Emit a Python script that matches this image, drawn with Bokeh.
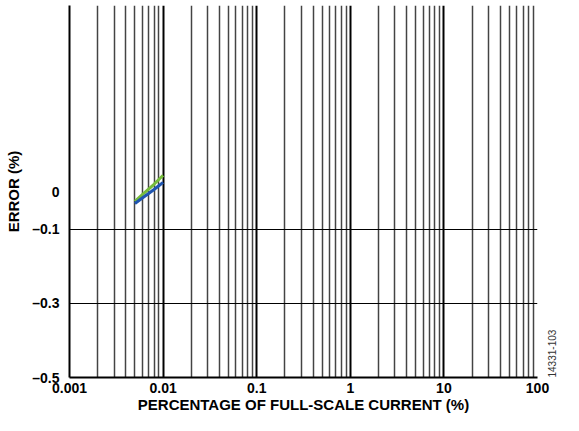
import math
from bokeh.plotting import figure
from bokeh.models import FixedTicker, CustomJSTickFormatter, Range1d, LinearAxis
from bokeh.embed import file_html
from bokeh.resources import INLINE

# data
x_pct = [0.005, 0.006, 0.007, 0.008, 0.009, 0.01]
err_blue = [-0.030, -0.015, -0.003, 0.008, 0.018, 0.027]
err_green = [-0.024, -0.006, 0.009, 0.022, 0.035, 0.046]

x_major = [0.001, 0.01, 0.1, 1, 10, 100]
x_minor = [d * m for d in [0.001, 0.01, 0.1, 1, 10] for m in range(2, 10)]
y_ticks = [-0.5, -0.3, -0.1, 0]
y_grid = [-0.3, -0.1]

FONT = "Liberation Sans"

p = figure(width=563, height=415, x_axis_type="log",
           x_range=Range1d(0.001, 100), y_range=Range1d(-0.5, 0.505),
           output_backend="svg", toolbar_location=None,
           min_border_left=69, min_border_right=26, min_border_top=5, min_border_bottom=38)
p.outline_line_color = None
p.background_fill_color = "white"

p.line(x_pct, err_green, line_color="#76bc3c", line_width=3)
p.line(x_pct, err_blue, line_color="#1f55b0", line_width=3)

p.xaxis.ticker = FixedTicker(ticks=x_major, minor_ticks=x_minor)
p.xaxis.formatter = CustomJSTickFormatter(code="return tick.toString();")
p.yaxis.ticker = FixedTicker(ticks=y_ticks)
p.yaxis.formatter = CustomJSTickFormatter(code="return tick.toString().replace('-', '\\u2013');")

for ax in (p.xaxis, p.yaxis):
    ax.major_tick_out = 0
    ax.major_tick_in = 0
    ax.minor_tick_out = 0
    ax.minor_tick_in = 0
    ax.axis_line_color = "black"
    ax.axis_line_width = 2
    ax.major_label_text_font = FONT
    ax.major_label_text_font_style = "bold"
    ax.major_label_text_font_size = "14px"
    ax.major_label_text_color = "black"
    ax.axis_label_text_font = FONT
    ax.axis_label_text_font_style = "bold"
    ax.axis_label_text_font_size = "15px"
    ax.axis_label_text_color = "black"

p.xaxis.axis_label = "PERCENTAGE OF FULL-SCALE CURRENT (%)"
p.yaxis.axis_label = "ERROR (%)"
p.xaxis.major_label_standoff = 5
p.xaxis.axis_label_standoff = 0
p.yaxis.major_label_standoff = 10
p.yaxis.axis_label_standoff = 7

p.xgrid.ticker = FixedTicker(ticks=x_major, minor_ticks=x_minor)
p.xgrid.grid_line_color = "black"
p.xgrid.grid_line_width = 2
p.xgrid.minor_grid_line_color = "#444444"
p.xgrid.minor_grid_line_width = 1.5
p.ygrid.ticker = FixedTicker(ticks=y_grid)
p.ygrid.grid_line_color = "black"
p.ygrid.grid_line_width = 1.2

# figure code, written along the right side
code_axis = LinearAxis(ticker=FixedTicker(ticks=[]), axis_line_color=None,
                       major_tick_out=0, major_tick_in=0, minor_tick_out=0, minor_tick_in=0,
                       axis_label="14331-103", axis_label_orientation=math.pi / 2,
                       axis_label_align="start", axis_label_standoff=14,
                       axis_label_text_font=FONT, axis_label_text_font_style="normal",
                       axis_label_text_font_size="10px", axis_label_text_color="#333333")
p.add_layout(code_axis, "right")

open("out.html", "w").write(file_html(p, INLINE))
